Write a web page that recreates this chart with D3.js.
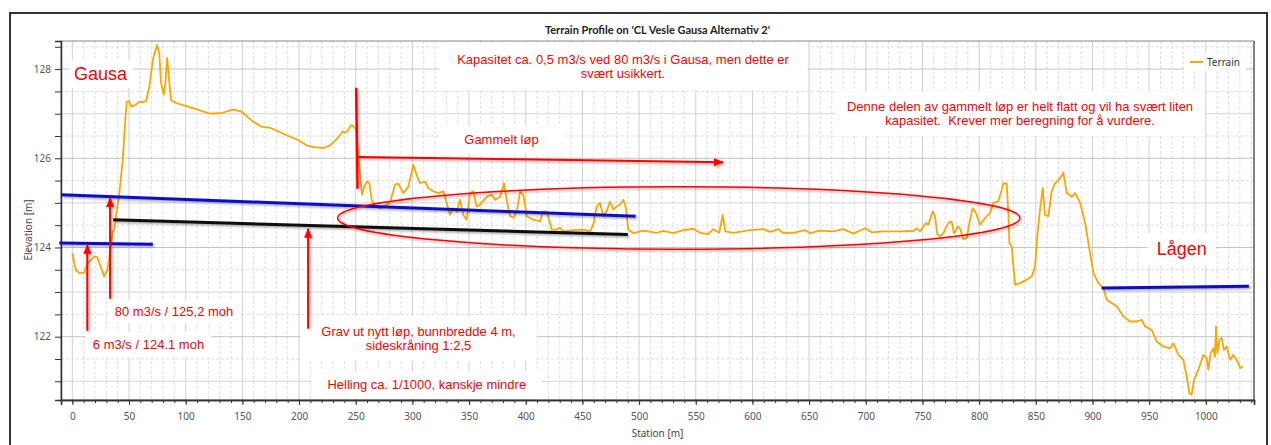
<!DOCTYPE html>
<html>
<head>
<meta charset="utf-8" />
<title>Terrain Profile on 'CL Vesle Gausa Alternativ 2'</title>
<style>
body { margin: 0; background: #fff; }
svg text { font-family: "Noto Sans", sans-serif; }
.axis .tick text { font-size: 10px; fill: #555; }
.axis path, .axis line { stroke: #333; }
.note { font-family: "Liberation Sans", Arial, sans-serif; fill: #f00; text-anchor: middle; white-space: pre; }
</style>
<script src="https://cdn.jsdelivr.net/npm/d3@7"></script>
</head>
<body>
<svg class="chart" width="1271" height="445"></svg>

<script>
var chartWidth = 1271;
var chartHeight = 445;
var plot = {left: 61, right: 1254, top: 41, bottom: 400};

/********
 * Data *
 ********/

var terrainStation = [
  0, 3, 6, 10.5, 13.5, 16.5, 19.5, 22, 25, 28, 31, 34, 35.5, 37, 38.5, 41.5, 44.5, 46.5, 48, 50,
  52, 56, 59, 62, 65, 68, 71, 74.7, 76.7, 78.3, 80.6, 82.1, 83.6, 84.8, 87, 91.5, 102, 110.5, 121, 131,
  141.5, 149, 157.5, 166.5, 175, 187, 199, 207.5, 213.5, 222, 228, 234, 238.5, 240.5, 242.8, 244.7, 246.5, 248.3, 250.3, 253.2,
  255.6, 257.6, 260, 262, 264.1, 266.5, 271.5, 280.3, 284.7, 287.6, 292, 296.4, 300.8, 303.7, 306.7, 311.1, 314.1, 318.5, 322.9, 327.3,
  330.3, 333.2, 336.1, 339.1, 342, 344.9, 347.9, 350.8, 353.8, 356.7, 359.7, 365.6, 370, 372.9, 377.3, 380.9, 383.2, 386.2, 389.1, 392.1,
  395, 397.9, 400.9, 406.7, 412.6, 415.5, 418.5, 421.4, 422.9, 427.3, 430.2, 433.2, 442, 450.8, 456.7, 459.6, 462.6, 465.5, 468.4, 471.4,
  474.3, 477.3, 480.2, 483.1, 486.1, 488.4, 490.5, 495, 503.7, 515.4, 521.3, 530.1, 539, 547.8, 553.7, 561, 565.4, 570.7, 573.8, 576.1,
  583.2, 594.9, 609.6, 615.5, 622.9, 627.3, 636.1, 646.4, 650.8, 659.6, 671.4, 680.2, 689, 699.3, 705.2, 715.5, 730.2, 742, 744.9, 747.8,
  753.1, 755.2, 759, 761.1, 763.1, 765.5, 768.4, 772.8, 775.8, 777.8, 781.6, 783.1, 786.1, 789, 792, 794.3, 797.3, 800.8, 805.2, 809.6,
  812.5, 816.9, 819.9, 821.4, 824.3, 825.8, 826.7, 828.8, 831.7, 836.1, 842, 846.4, 849.3, 851.3, 853.7, 856.1, 858.1, 861.1, 864, 867,
  870.8, 874.3, 877.3, 881.7, 884.6, 889.1, 893.5, 897.9, 900.8, 905.2, 909.6, 912.6, 917, 921.4, 927.3, 933.1, 939, 943.4, 946.4, 952.2,
  956.7, 962.5, 968.4, 971.4, 975.8, 980.2, 983.1, 985.5, 987.5, 989.6, 993.4, 997.8, 1000.8, 1002.2, 1004.3, 1006.7, 1008.1, 1009, 1010.2, 1012,
  1014, 1016.1, 1018.4, 1021.4, 1024.3, 1028.7, 1030.2, 1032.5
];

var terrainElev = [
  123.87, 123.50, 123.43, 123.43, 123.65, 123.72, 123.80, 123.78, 123.57, 123.35, 123.50, 124.02, 124.36, 124.39, 124.70, 125.22, 125.97, 126.79, 127.27, 127.28,
  127.16, 127.20, 127.27, 127.26, 127.28, 127.61, 128.21, 128.54, 128.35, 127.69, 127.42, 127.69, 128.25, 127.91, 127.31, 127.24, 127.16, 127.09, 127.00, 127.01,
  127.09, 127.05, 126.86, 126.71, 126.68, 126.54, 126.41, 126.28, 126.25, 126.23, 126.30, 126.45, 126.60, 126.57, 126.61, 126.70, 126.75, 126.70, 126.65, 125.82,
  125.18, 125.37, 125.48, 125.45, 125.07, 124.92, 124.88, 125.00, 125.41, 125.43, 125.22, 125.36, 125.85, 125.63, 125.44, 125.48, 125.33, 125.26, 125.22, 125.26,
  125.00, 124.73, 124.88, 124.80, 125.07, 124.73, 124.62, 125.22, 125.26, 124.92, 124.96, 125.14, 125.18, 125.07, 125.14, 125.44, 125.07, 124.70, 124.67, 124.80,
  125.26, 125.18, 124.70, 124.62, 124.59, 124.81, 124.81, 124.55, 124.40, 124.40, 124.44, 124.36, 124.39, 124.40, 124.36, 124.51, 124.92, 125.00, 124.70, 124.81,
  125.03, 124.85, 124.92, 124.96, 125.07, 124.88, 124.40, 124.32, 124.38, 124.33, 124.37, 124.32, 124.39, 124.42, 124.33, 124.30, 124.41, 124.33, 124.73, 124.36,
  124.33, 124.38, 124.41, 124.35, 124.41, 124.32, 124.33, 124.39, 124.32, 124.38, 124.36, 124.41, 124.31, 124.43, 124.34, 124.36, 124.36, 124.37, 124.43, 124.36,
  124.55, 124.51, 124.81, 124.70, 124.29, 124.25, 124.32, 124.55, 124.58, 124.32, 124.47, 124.43, 124.19, 124.21, 124.62, 124.88, 124.77, 124.51, 124.66, 124.77,
  125.00, 125.03, 125.29, 125.44, 125.43, 124.77, 124.10, 124.02, 123.16, 123.20, 123.28, 123.35, 123.57, 124.25, 124.85, 125.33, 124.73, 124.70, 125.26, 125.44,
  125.53, 125.68, 125.22, 125.14, 125.22, 125.00, 124.55, 123.87, 123.43, 123.20, 123.09, 122.83, 122.75, 122.68, 122.45, 122.34, 122.34, 122.38, 122.23, 122.15,
  121.89, 121.78, 121.74, 121.85, 121.59, 121.48, 121.11, 120.73, 120.70, 121.03, 121.26, 121.59, 121.52, 121.26, 121.63, 121.74, 121.55, 122.23, 121.63, 121.93,
  121.97, 121.70, 121.78, 121.48, 121.59, 121.41, 121.29, 121.34
];

// water levels / new bed drawn over the profile, [station, elevation]
var level80 = [[-10, 125.18], [497, 124.70]];
var level6 = [[-11.5, 124.10], [71, 124.07]];
var newBed = [[36, 124.62], [490, 124.29]];
var levelLagen = [[908, 123.09], [1038, 123.13]];

// red arrows, from -> to
var arrows = [
  [[13.2, 122.13], [13.2, 124.06]],
  [[33.3, 122.85], [33.3, 125.11]],
  [[208, 122.18], [208, 124.42]],
  [[252, 126.03], [574, 125.91]]
];
var markLine = [[250.4, 127.58], [251.6, 125.32]];
var oldCourse = {station: 535, elev: 124.66, halfLength: 301, halfHeight: 0.70};

var notes = [
  {lines: ["Gausa"], station: 24.9, elev: 127.895, size: 18, pad: [5, 4]},
  {lines: ["Kapasitet ca. 0,5 m3/s ved 80 m3/s i Gausa, men dette er", "svært usikkert."], station: 485.8, elev: 128.21, size: 13, pad: [18, 9]},
  {lines: ["Denne delen av gammelt løp er helt flatt og vil ha svært liten", "kapasitet.  Krever mer beregning for å vurdere."], station: 836.1, elev: 127.155, size: 13, pad: [12, 8]},
  {lines: ["Gammelt løp"], station: 378.6, elev: 126.415, size: 13, pad: [25, 6]},
  {lines: ["80 m3/s / 125,2 moh"], station: 89.7, elev: 122.565, size: 13, pad: [6, 4]},
  {lines: ["6 m3/s / 124.1 moh"], station: 67.2, elev: 121.82, size: 13, pad: [7, 5]},
  {lines: ["Grav ut nytt løp, bunnbredde 4 m,", "sideskråning 1:2,5"], station: 305.4, elev: 122.117, size: 13, pad: [21, 8]},
  {lines: ["Helling ca. 1/1000, kanskje mindre"], station: 312.7, elev: 120.92, size: 13, pad: [15, 6]},
  {lines: ["Lågen"], station: 978.7, elev: 123.96, size: 18, pad: [9, 6]}
];

/**********
 * Scales *
 **********/

var x = d3.scaleLinear().domain([-10, 1042.5]).range([plot.left, plot.right]);
var y = d3.scaleLinear().domain([120.58, 128.63]).range([plot.bottom, plot.top]);

var svg = d3.select(".chart");

var defs = svg.append("defs");
var shadow = defs.append("filter").attr("id", "shadow")
    .attr("x", "-20%").attr("y", "-20%").attr("width", "140%").attr("height", "140%");
shadow.append("feDropShadow")
    .attr("dx", 1.5).attr("dy", 1.5).attr("stdDeviation", 1)
    .attr("flood-color", "#000").attr("flood-opacity", 0.35);

defs.append("marker").attr("id", "head")
    .attr("viewBox", "0 0 10 8").attr("refX", 9).attr("refY", 4)
    .attr("markerUnits", "userSpaceOnUse")
    .attr("markerWidth", 11).attr("markerHeight", 8).attr("orient", "auto")
  .append("path").attr("d", "M0,0 L10,4 L0,8 z").attr("fill", "#f00");

// outer frame
svg.append("rect")
    .attr("x", 10).attr("y", 13).attr("width", 1257).attr("height", 445)
    .attr("fill", "none").attr("stroke", "#333").attr("stroke-width", 2);

// title
svg.append("text")
    .attr("x", (plot.left + plot.right) / 2).attr("y", 29)
    .attr("text-anchor", "middle").attr("dominant-baseline", "central")
    .style("font-family", "Lato, sans-serif").style("font-weight", "bold")
    .style("font-size", "11px").style("fill", "#222")
    .text("Terrain Profile on 'CL Vesle Gausa Alternativ 2'");

/********
 * Grid *
 ********/

var grid = svg.append("g");
grid.selectAll(".vminor").data(d3.range(-10, 1041, 10).filter(function(d){ return d % 50 !== 0; }))
  .enter().append("line")
    .attr("x1", x).attr("x2", x).attr("y1", plot.top).attr("y2", plot.bottom)
    .attr("stroke", "#ddd").attr("stroke-dasharray", "3,2");
grid.selectAll(".vmajor").data(d3.range(0, 1041, 50))
  .enter().append("line")
    .attr("x1", x).attr("x2", x).attr("y1", plot.top).attr("y2", plot.bottom)
    .attr("stroke", "#cfcfcf");
grid.selectAll(".hminor").data(d3.range(121, 128.6, 0.5).filter(function(d){ return d % 1 !== 0; }))
  .enter().append("line")
    .attr("y1", y).attr("y2", y).attr("x1", plot.left).attr("x2", plot.right)
    .attr("stroke", "#ddd").attr("stroke-dasharray", "3,2");
grid.selectAll(".hmajor").data(d3.range(121, 129, 1))
  .enter().append("line")
    .attr("y1", y).attr("y2", y).attr("x1", plot.left).attr("x2", plot.right)
    .attr("stroke", function(d){ return d % 2 === 0 ? "#c4c4c4" : "#d6d6d6"; });

svg.append("rect")
    .attr("x", plot.left).attr("y", plot.top)
    .attr("width", plot.right - plot.left).attr("height", plot.bottom - plot.top)
    .attr("fill", "none").attr("stroke", "#888");
svg.append("line")
    .attr("x1", plot.right).attr("x2", plot.right).attr("y1", plot.top).attr("y2", plot.bottom)
    .attr("stroke", "#444");

/********
 * Axes *
 ********/

var xMinor = d3.axisBottom(x).tickValues(d3.range(-10, 1041, 10)).tickSize(3).tickFormat("");
var xAxis = d3.axisBottom(x).tickValues(d3.range(0, 1001, 50)).tickSize(5).tickPadding(8).tickFormat(d3.format("d"));
var yAxis = d3.axisLeft(y).tickValues(d3.range(121, 128.6, 0.5)).tickSize(6).tickPadding(4)
    .tickFormat(function(d){ return d % 2 === 0 ? d : ""; });

svg.append("g").attr("class", "axis").attr("transform", "translate(0," + plot.bottom + ")").call(xMinor);
svg.append("g").attr("class", "axis").attr("transform", "translate(0," + plot.bottom + ")").call(xAxis);
svg.append("g").attr("class", "axis").attr("transform", "translate(" + plot.left + ",0)").call(yAxis);
svg.selectAll(".axis .domain").attr("stroke-width", 1.5);

svg.append("text")
    .attr("x", (plot.left + plot.right) / 2).attr("y", 433)
    .attr("text-anchor", "middle").attr("dominant-baseline", "central")
    .style("font-size", "10px").style("fill", "#444")
    .text("Station [m]");
svg.append("text")
    .attr("transform", "translate(28,230) rotate(-90)")
    .attr("text-anchor", "middle").attr("dominant-baseline", "central")
    .style("font-size", "10px").style("fill", "#444")
    .text("Elevation [m]");

/***************
 * Text boxes  *
 ***************/

var noteBoxes = svg.append("g");
var noteTexts = svg.append("g");

/**************
 * Profile    *
 **************/

var terrain = terrainStation.map(function(s, i){ return [s, terrainElev[i]]; });
var line = d3.line().x(function(d){ return x(d[0]); }).y(function(d){ return y(d[1]); });

svg.append("path").datum(terrain)
    .attr("d", line).attr("fill", "none")
    .attr("stroke", "#ffa500").attr("stroke-width", 1.8).attr("stroke-linejoin", "round");

// legend
svg.append("rect").attr("x", 1184).attr("y", 53).attr("width", 62).attr("height", 18).attr("fill", "#fff");
svg.append("line").attr("x1", 1190).attr("x2", 1203).attr("y1", 62).attr("y2", 62)
    .attr("stroke", "#ffa500").attr("stroke-width", 2);
svg.append("text").attr("x", 1207).attr("y", 62).attr("dominant-baseline", "central")
    .style("font-size", "10px").style("fill", "#333").text("Terrain");

// overlays
var over = svg.append("g").attr("filter", "url(#shadow)");
[[level80, "#1010c8"], [level6, "#1010c8"], [newBed, "#111"], [levelLagen, "#1010c8"]].forEach(function(l){
  over.append("path").datum(l[0]).attr("d", line)
      .attr("fill", "none").attr("stroke", l[1]).attr("stroke-width", 3);
});

over.append("ellipse")
    .attr("cx", x(oldCourse.station)).attr("cy", y(oldCourse.elev))
    .attr("rx", x(oldCourse.station + oldCourse.halfLength) - x(oldCourse.station))
    .attr("ry", y(oldCourse.elev) - y(oldCourse.elev + oldCourse.halfHeight))
    .attr("fill", "none").attr("stroke", "#f00").attr("stroke-width", 1.5);

over.append("path").datum(markLine).attr("d", line)
    .attr("fill", "none").attr("stroke", "#f00").attr("stroke-width", 2.5);

arrows.forEach(function(a){
  over.append("path").datum(a).attr("d", line)
      .attr("fill", "none").attr("stroke", "#f00").attr("stroke-width", 2)
      .attr("marker-end", "url(#head)");
});

// notes
notes.forEach(function(n){
  var lh = n.size > 14 ? 20 : 13.8;
  var t = noteTexts.append("text").attr("class", "note")
      .attr("xml:space", "preserve").style("font-size", n.size + "px");
  n.lines.forEach(function(s, i){
    t.append("tspan").attr("x", x(n.station)).attr("y", y(n.elev) + i * lh)
        .attr("dominant-baseline", "central").text(s);
  });
  var b = t.node().getBBox();
  noteBoxes.append("rect")
      .attr("x", b.x - n.pad[0]).attr("y", b.y - n.pad[1])
      .attr("width", b.width + 2 * n.pad[0]).attr("height", b.height + 2 * n.pad[1])
      .attr("fill", "#fff");
});
</script>
</body>
</html>
